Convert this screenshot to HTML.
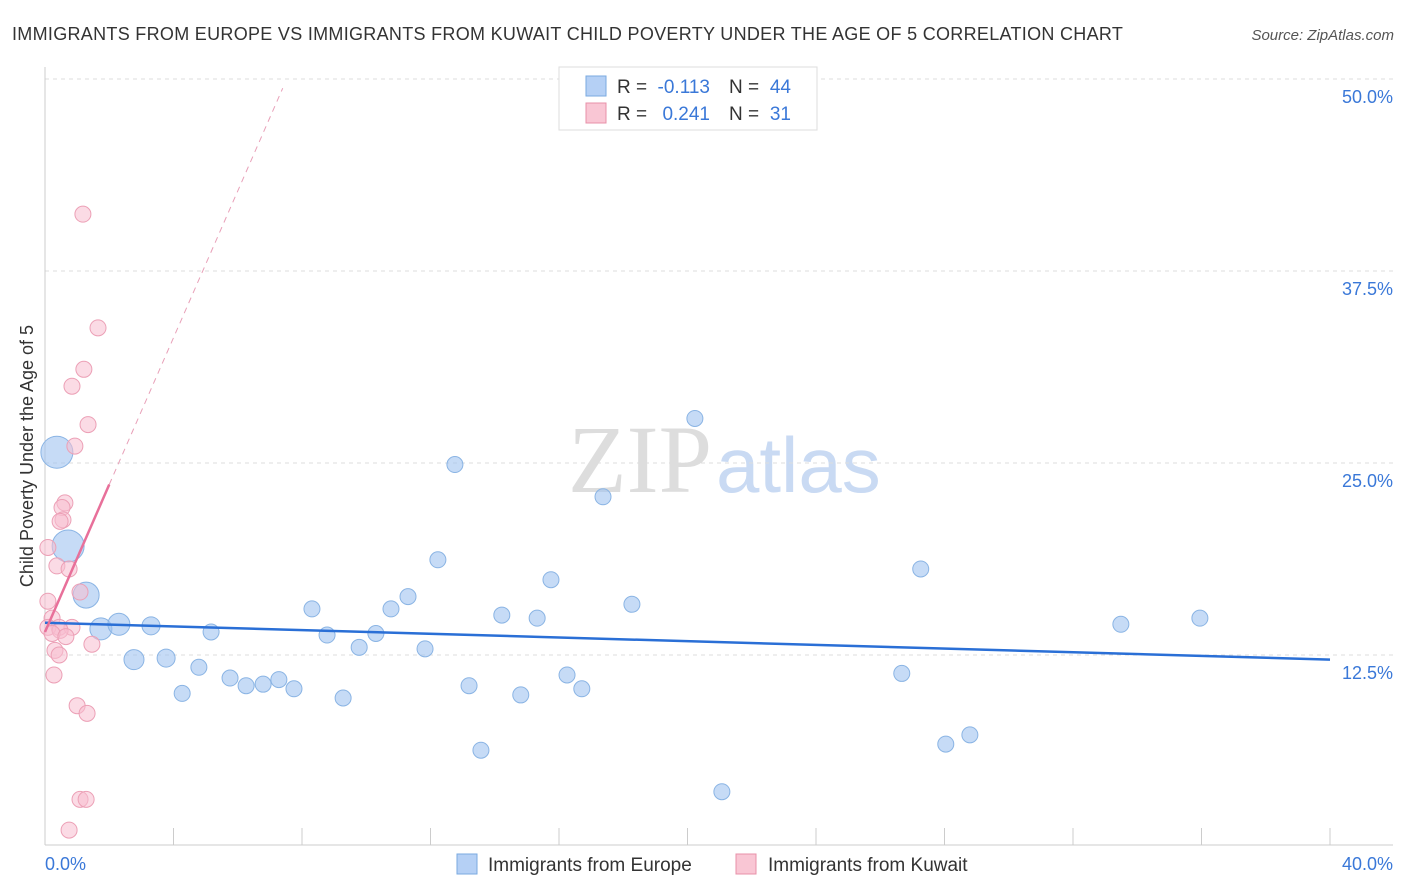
<!DOCTYPE html>
<html><head><meta charset="utf-8"><style>
body{margin:0;background:#fff;font-family:"Liberation Sans",sans-serif;}
svg{display:block}
</style></head><body>
<svg id="chart" width="1406" height="892">
<text x="12" y="40" font-size="18" fill="#333" letter-spacing="0.3">IMMIGRANTS FROM EUROPE VS IMMIGRANTS FROM KUWAIT CHILD POVERTY UNDER THE AGE OF 5 CORRELATION CHART</text>
<text x="1394" y="40" font-size="15" fill="#555" font-style="italic" text-anchor="end">Source: ZipAtlas.com</text>
<text x="712" y="492" font-size="96" fill="#ddd" font-family="Liberation Serif,serif" text-anchor="end">ZIP</text>
<text x="716" y="492" font-size="78" fill="#c9daf3">atlas</text>
<g id="grid"></g><g id="marks"></g>
<text transform="translate(33,456) rotate(-90)" font-size="18" fill="#333" text-anchor="middle">Child Poverty Under the Age of 5</text>
<text x="45" y="870" font-size="18" fill="#3a78d8">0.0%</text>
<text x="1393" y="870" font-size="18" fill="#3a78d8" text-anchor="end">40.0%</text>
<g>
<rect x="559" y="67" width="258" height="63" fill="#fff" stroke="#ddd"/>
<rect x="586" y="76" width="20" height="20" fill="#b5d0f5" stroke="#7aaae0"/>
<rect x="586" y="103" width="20" height="20" fill="#f9c6d4" stroke="#e890a8"/>
<text x="617" y="93" font-size="19" fill="#333">R =</text>
<text x="710" y="93" font-size="19" fill="#3a78d8" text-anchor="end">-0.113</text>
<text x="729" y="93" font-size="19" fill="#333">N =</text>
<text x="791" y="93" font-size="19" fill="#3a78d8" text-anchor="end">44</text>
<text x="617" y="120" font-size="19" fill="#333">R =</text>
<text x="710" y="120" font-size="19" fill="#3a78d8" text-anchor="end">0.241</text>
<text x="729" y="120" font-size="19" fill="#333">N =</text>
<text x="791" y="120" font-size="19" fill="#3a78d8" text-anchor="end">31</text>
</g>
<g>
<rect x="457" y="854" width="20" height="20" fill="#b5d0f5" stroke="#7aaae0"/>
<text x="488" y="871" font-size="19" fill="#333">Immigrants from Europe</text>
<rect x="736" y="854" width="20" height="20" fill="#f9c6d4" stroke="#e890a8"/>
<text x="768" y="871" font-size="19" fill="#333">Immigrants from Kuwait</text>
</g>
</svg>
<script>
const yTicks=[12.5,25,37.5,50];
const xTicks=[0,4,8,12,16,20,24,28,32,36,40];
const euroX=[0.37,0.72,1.28,1.74,2.30,3.30,2.77,3.77,4.27,4.79,5.17,5.76,6.26,6.79,7.28,7.75,8.31,8.78,9.28,9.78,10.30,10.77,11.30,11.83,12.23,12.76,13.20,13.57,14.22,14.81,15.32,15.75,16.25,16.71,17.37,18.27,20.23,21.07,26.67,27.26,28.04,28.79,33.49,35.95];
const euroY=[25.7,19.6,16.4,14.2,14.5,14.4,12.2,12.3,10.0,11.7,14.0,11.0,10.5,10.6,10.9,10.3,15.5,13.8,9.7,13.0,13.9,15.5,16.3,12.9,18.7,24.9,10.5,6.3,15.1,9.9,14.9,17.4,11.2,10.3,22.8,15.8,27.9,3.6,11.3,18.1,6.7,7.3,14.5,14.9];
const euroR=[16,16,13,11,11,9,10,9,8,8,8,8,8,8,8,8,8,8,8,8,8,8,8,8,8,8,8,8,8,8,8,8,8,8,8,8,8,8,8,8,8,8,8,8];
const kuwX=[1.18,1.65,1.21,0.84,1.34,0.93,0.62,0.53,0.56,0.47,0.09,0.37,0.75,1.09,0.09,0.22,0.44,0.09,0.84,0.47,0.22,0.65,0.31,1.46,0.44,0.28,1.00,1.31,1.09,1.28,0.75];
const kuwY=[41.2,33.8,31.1,30.0,27.5,26.1,22.4,22.1,21.3,21.2,19.5,18.3,18.1,16.6,16.0,14.9,14.3,14.3,14.3,14.1,13.9,13.7,12.8,13.2,12.5,11.2,9.2,8.7,3.1,3.1,1.1];
const euroLine=[[0,14.6],[40,12.2]];
const kuwLine=[[0,14.0],[2.0,23.6]];
const kuwDash=[[2.0,23.6],[7.4,49.4]];
const X=v=>45+v*1285/40, Y=v=>847-v*15.36;
const NS='http://www.w3.org/2000/svg';
const grid=document.getElementById('grid'), marks=document.getElementById('marks');
function mk(tag,attrs,parent){const e=document.createElementNS(NS,tag);for(const k in attrs)e.setAttribute(k,attrs[k]);parent.appendChild(e);return e;}
yTicks.forEach(t=>{
 const l=mk('line',{x1:45,x2:1393,y1:Y(t),y2:Y(t),stroke:'#ddd','stroke-dasharray':'4,4'},grid);
 
 
 const tx=mk('text',{x:1393,y:Y(t)+24,'font-size':18,fill:'#3a78d8','text-anchor':'end'},grid);
 tx.textContent=t.toFixed(1)+'%';
 
 
});
const ax=mk('line',{x1:45,x2:45,y1:67,y2:845,stroke:'#ccc'},grid);


const bx=mk('line',{x1:45,x2:1393,y1:845,y2:845,stroke:'#ccc'},grid);


xTicks.forEach(t=>{
 const l=mk('line',{x1:X(t),x2:X(t),y1:828,y2:845,stroke:'#ccc'},grid);
 
 
});
euroX.forEach((v,i)=>{
 const c=mk('circle',{cx:X(v),cy:Y(euroY[i]),r:euroR[i],fill:'rgba(160,195,240,0.6)',stroke:'#8ab4e4','stroke-width':1},marks);
 
 
});
kuwX.forEach((v,i)=>{
 const c=mk('circle',{cx:X(v),cy:Y(kuwY[i]),r:8,fill:'rgba(248,190,208,0.55)',stroke:'#eca0b6','stroke-width':1},marks);
 
 
});
const el=mk('line',{x1:X(euroLine[0][0]),y1:Y(euroLine[0][1]),x2:X(euroLine[1][0]),y2:Y(euroLine[1][1]),stroke:'#2a6fd6','stroke-width':2.5},marks);


const kl=mk('line',{x1:X(kuwLine[0][0]),y1:Y(kuwLine[0][1]),x2:X(kuwLine[1][0]),y2:Y(kuwLine[1][1]),stroke:'#e8709a','stroke-width':2.5},marks);


const kd=mk('line',{x1:X(kuwDash[0][0]),y1:Y(kuwDash[0][1]),x2:X(kuwDash[1][0]),y2:Y(kuwDash[1][1]),stroke:'#e8a0b8','stroke-width':1,'stroke-dasharray':'6,5'},marks);


</script>
</body></html>
